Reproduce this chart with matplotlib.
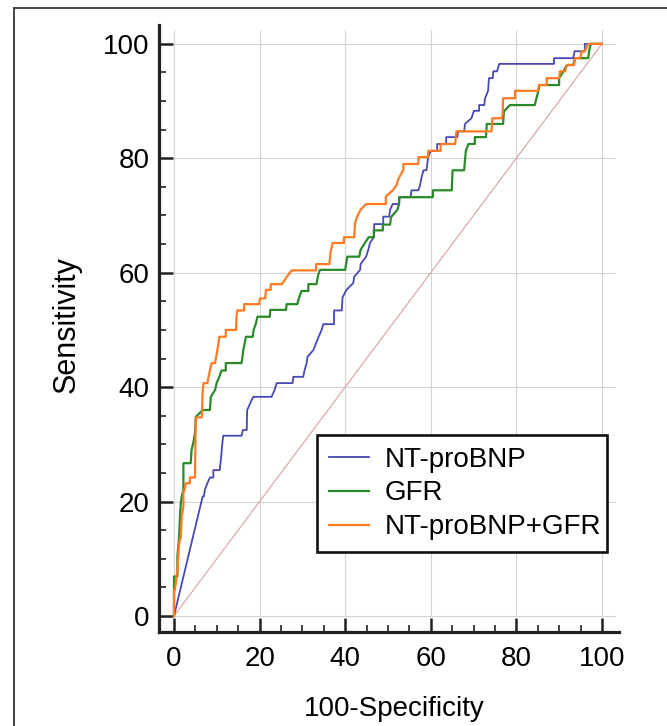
import matplotlib
matplotlib.use("Agg")
import matplotlib.pyplot as plt
from matplotlib.lines import Line2D
from matplotlib.ticker import MultipleLocator

plt.rcParams['font.family'] = ['Liberation Sans', 'DejaVu Sans']

# ROC curves (100-Specificity, Sensitivity)
ntprobnp_x = [0, 6.7, 7.0, 7.2, 7.8, 8.4, 9.2, 9.2, 10.7, 11.0, 11.3, 11.5, 15.8, 16.1, 17.0, 17.1,
              18.5, 22.8, 23.5, 24.0, 27.7, 27.9, 30.2, 30.5, 31.0, 31.2, 32.6, 33.2, 33.8, 34.5,
              34.9, 37.4, 37.4, 39.2, 39.4, 40.3, 41.9, 42.1, 43.5, 43.6, 44.9, 45.4, 45.8, 46.7,
              46.8, 48.9, 48.9, 50.3, 50.5, 51.1, 52.6, 52.6, 55.3, 55.5, 57.1, 57.5, 57.8, 58.3,
              59.0, 59.4, 60.0, 61.5, 61.5, 63.6, 63.6, 66.2, 66.4, 67.8, 68.0, 69.5, 70.1, 71.3,
              71.3, 72.5, 72.7, 73.4, 73.6, 74.5, 74.6, 75.5, 76.0, 88.8, 88.8, 93.3, 93.6, 96.0,
              96.0, 100]
ntprobnp_y = [0, 20.9, 20.9, 22.0, 23.2, 24.2, 24.2, 25.5, 25.5, 27.7, 30.2, 31.5, 31.5, 32.5, 32.5, 36.0,
              38.3, 38.3, 39.5, 40.7, 40.7, 41.8, 41.8, 42.9, 44.2, 45.3, 46.5, 47.7, 48.8, 50.0,
              51.0, 51.0, 53.4, 53.4, 55.7, 57.0, 58.2, 59.3, 60.5, 61.5, 62.8, 64.0, 65.2, 66.2,
              68.5, 68.5, 69.8, 69.8, 71.0, 72.0, 72.0, 73.2, 73.2, 74.4, 74.4, 75.3, 76.5, 77.9,
              77.9, 80.2, 81.3, 81.3, 82.5, 82.5, 83.7, 83.7, 84.7, 84.7, 86.0, 87.0, 88.3, 88.3,
              89.3, 89.3, 90.5, 91.8, 94.0, 94.0, 95.2, 95.2, 96.5, 96.5, 97.5, 97.5, 98.7, 98.7,
              100, 100]

gfr_x = [0, 0, 0.8, 0.8, 1.2, 1.4, 1.6, 1.8, 2.2, 2.2, 3.9, 4.1, 4.5, 4.9, 5.1, 6.7, 8.4, 8.6,
         9.6, 10.0, 10.6, 11.1, 12.1, 12.1, 15.8, 16.2, 16.5, 16.8, 18.4, 18.6, 19.1, 19.5, 22.4,
         22.5, 26.2, 26.3, 28.8, 29.3, 29.8, 31.4, 31.4, 33.3, 33.7, 34.1, 40.0, 40.5, 43.3, 43.6,
         44.6, 45.5, 46.7, 46.7, 48.8, 48.8, 50.5, 50.7, 52.2, 52.6, 52.7, 60.5, 60.5, 64.9, 65.1,
         67.8, 68.2, 68.8, 70.3, 70.3, 72.9, 73.1, 76.9, 77.1, 78.5, 84.3, 84.7, 85.1, 85.4, 90.0,
         90.0, 91.0, 91.8, 93.3, 93.7, 96.8, 97.0, 97.4, 100]
gfr_y = [0, 6.9, 6.9, 10.4, 13.9, 17.4, 19.7, 20.9, 22.0, 26.7, 26.7, 29.0, 30.2, 31.9, 34.8, 36.0, 36.0, 38.3,
         39.5, 40.8, 41.8, 42.9, 42.9, 44.2, 44.2, 46.5, 47.6, 48.8, 48.8, 50.0, 51.0, 52.3, 52.3,
         53.5, 53.5, 54.5, 54.5, 55.8, 56.8, 56.8, 58.0, 58.0, 59.6, 60.5, 60.5, 62.8, 62.8, 64.0,
         65.2, 66.2, 66.2, 67.4, 67.4, 68.4, 68.4, 69.7, 71.0, 72.0, 73.2, 73.2, 74.4, 74.4, 77.9,
         77.9, 81.3, 82.5, 82.5, 83.7, 83.7, 86.0, 86.0, 88.2, 89.3, 89.3, 90.5, 91.6, 92.8, 92.8,
         94.0, 95.2, 96.3, 96.3, 97.5, 97.5, 98.7, 100, 100]

combo_x = [0, 0, 0.2, 0.5, 0.8, 1.0, 1.2, 1.6, 1.8, 2.2, 2.2, 2.8, 3.7, 3.7, 4.9, 5.1, 6.5, 6.7, 6.9,
           7.8, 8.4, 8.8, 9.6, 10.0, 10.4, 10.6, 12.1, 12.1, 14.5, 14.6, 14.8, 16.4, 16.4, 19.9,
           20.1, 21.3, 21.5, 22.6, 22.6, 25.2, 26.3, 27.5, 33.2, 33.2, 36.3, 36.6, 37.1, 39.7, 39.7,
           42.1, 42.3, 42.8, 43.6, 44.9, 49.5, 49.5, 51.1, 52.0, 52.5, 53.6, 53.6, 57.1, 57.1, 59.4,
           59.4, 62.3, 62.3, 65.7, 66.0, 74.2, 74.4, 76.6, 76.8, 76.9, 79.7, 79.7, 85.1, 85.3, 87.1,
           87.1, 90.0, 90.2, 91.4, 91.8, 93.5, 93.7, 94.9, 95.3, 96.0, 96.8, 100]
combo_y = [0, 4.5, 4.5, 6.3, 8.0, 10.4, 12.7, 13.9, 17.4, 19.1, 21.4, 23.2, 23.2, 24.2, 24.2, 34.7, 34.7,
           39.2, 40.7, 40.7, 43.0, 44.2, 44.2, 45.9, 47.7, 48.8, 48.8, 50.0, 50.0, 52.3, 53.4, 53.4,
           54.5, 54.5, 55.5, 55.5, 57.0, 57.0, 58.0, 58.0, 59.2, 60.4, 60.4, 61.5, 61.5, 63.7, 65.2,
           65.2, 66.2, 66.2, 68.6, 69.8, 71.0, 72.0, 72.0, 73.3, 74.4, 75.3, 76.5, 78.0, 79.0, 79.0,
           80.2, 80.2, 81.3, 81.3, 82.5, 82.5, 84.7, 84.7, 87.0, 87.0, 87.7, 90.5, 90.5, 91.8, 91.8,
           92.8, 92.8, 94.0, 94.0, 95.2, 95.2, 96.3, 96.3, 97.5, 97.5, 98.7, 98.7, 100, 100]

labels = ['NT-proBNP', 'GFR', 'NT-proBNP+GFR']
colors = ['#4848b4', '#2a8a2a', '#ff7a22']

fig = plt.figure(figsize=(6.67, 7.26), dpi=100)
ax = fig.add_axes([0.2384, 0.1295, 0.6897, 0.8361])

ax.plot([0, 100], [0, 100], color='#d8a0a0', lw=0.8, zorder=2)
ax.plot(ntprobnp_x, ntprobnp_y, color=colors[0], lw=1.3, label=labels[0], zorder=3)
ax.plot(gfr_x, gfr_y, color=colors[1], lw=1.6, label=labels[1], zorder=3)
ax.plot(combo_x, combo_y, color=colors[2], lw=1.6, label=labels[2], zorder=4)

ax.set_xlim(-3.5, 104)
ax.set_ylim(-2.8, 103.3)
ax.xaxis.set_major_locator(MultipleLocator(20))
ax.yaxis.set_major_locator(MultipleLocator(20))
ax.xaxis.set_minor_locator(MultipleLocator(5))
ax.yaxis.set_minor_locator(MultipleLocator(5))

# grid only up to 100
for v in range(0, 101, 20):
    ax.plot([v, v], [0, 102.5], color='#d4d4d4', lw=0.8, zorder=1)
    ax.plot([0, 103], [v, v], color='#d4d4d4', lw=0.8, zorder=1)

for s in ['top', 'right']:
    ax.spines[s].set_visible(False)
for s in ['left', 'bottom']:
    ax.spines[s].set_linewidth(2.3)
    ax.spines[s].set_color('#222222')

ax.tick_params(which='major', direction='in', length=10, width=1.8, color='#222222',
               labelsize=20)
ax.tick_params(axis='y', which='major', pad=7)
ax.tick_params(axis='x', which='major', pad=10)
ax.tick_params(which='minor', direction='in', length=5, width=1.2, color='#222222')

ax.set_xlabel('100-Specificity', fontsize=20)
ax.xaxis.set_label_coords(0.511, -0.106)
ax.set_ylabel('Sensitivity', fontsize=22)
ax.yaxis.set_label_coords(-0.168, 0.506)

leg = ax.legend(loc='upper left', bbox_to_anchor=(0.3435, 0.1038, 0.6304, 0.2207),
                mode='expand', borderaxespad=0, fontsize=20, handlelength=1.45,
                handletextpad=0.55, labelspacing=0.28, borderpad=0.42,
                fancybox=False, framealpha=1)
leg.get_frame().set_edgecolor('#111111')
leg.get_frame().set_linewidth(1.9)

# outer frame of the figure panel
fig.add_artist(Line2D([0.021, 0.021], [0.0, 0.989], color='#444444', lw=1.4))
fig.add_artist(Line2D([0.021, 1.0], [0.989, 0.989], color='#444444', lw=1.4))

fig.savefig('out.png', dpi=100)
